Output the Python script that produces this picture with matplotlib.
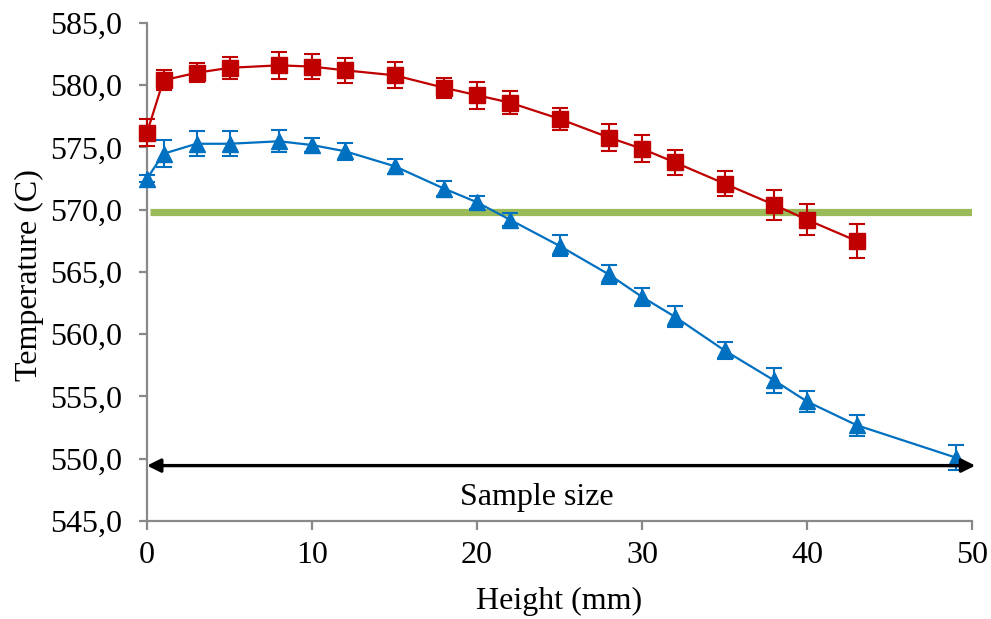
import matplotlib
matplotlib.use("Agg")
import matplotlib.pyplot as plt
from matplotlib.ticker import FuncFormatter

# data
red_x = [0, 1, 3, 5, 8, 10, 12, 15, 18, 20, 22, 25, 28, 30, 32, 35, 38, 40, 43]
red_y = [576.2, 580.4, 581.0, 581.4, 581.6, 581.5, 581.2, 580.8, 579.8, 579.2,
         578.6, 577.3, 575.8, 574.9, 573.8, 572.1, 570.4, 569.2, 567.5]
red_err = [1.1, 0.8, 0.75, 0.9, 1.1, 1.0, 1.0, 1.05, 0.8, 1.1,
           0.9, 0.9, 1.05, 1.1, 1.0, 1.0, 1.2, 1.25, 1.35]

blue_x = [0, 1, 3, 5, 8, 10, 12, 15, 18, 20, 22, 25, 28, 30, 32, 35, 38, 40, 43, 49]
blue_y = [572.5, 574.5, 575.3, 575.3, 575.5, 575.2, 574.7, 573.5, 571.7, 570.6,
          569.2, 567.1, 564.8, 563.0, 561.4, 558.7, 556.3, 554.6, 552.7, 550.1]
blue_err = [0.3, 1.1, 1.0, 1.0, 0.9, 0.6, 0.7, 0.6, 0.6, 0.5,
            0.5, 0.85, 0.8, 0.7, 0.85, 0.7, 1.0, 0.85, 0.85, 1.0]

ref_temp = 569.85          # green horizontal line
sample_span = (0, 50.2)    # arrow extent (mm)
sample_y = 549.45
sample_label = "Sample size"

x_ticks = [0, 10, 20, 30, 40, 50]
y_ticks = [545, 550, 555, 560, 565, 570, 575, 580, 585]

RED = "#C00000"
BLUE = "#0070C0"
GREEN = "#9BBB59"
AXIS_GREY = "#898989"
FS = 23

plt.rcParams["font.family"] = ["Liberation Serif", "DejaVu Serif"]

fig = plt.figure(figsize=(9.91, 6.19), dpi=100)
ax = fig.add_axes([147 / 991, 1 - 521 / 619, 825 / 991, 498 / 619])

ax.hlines(ref_temp, 0.2, 50, color=GREEN, lw=5.2, zorder=2)

ax.errorbar(red_x, red_y, yerr=red_err, fmt="s-", color=RED, ms=11.5, lw=1.6,
            elinewidth=1.5, capsize=5.5, capthick=1.5, clip_on=False, zorder=3)
ax.errorbar(blue_x, blue_y, yerr=blue_err, fmt="^-", color=BLUE, ms=12, lw=1.6,
            elinewidth=1.5, capsize=5.5, capthick=1.5, clip_on=False, zorder=3)

ax.annotate("", xy=(sample_span[1], sample_y), xytext=(sample_span[0], sample_y),
            arrowprops=dict(arrowstyle="<|-|>", color="black", lw=2.4,
                            mutation_scale=20, shrinkA=0, shrinkB=0),
            annotation_clip=False, zorder=4)
ax.text(23.6, 546.3, sample_label, ha="center", va="baseline", fontsize=FS)

ax.set_xlim(0, 50)
ax.set_ylim(545, 585)
ax.set_xticks(x_ticks)
ax.set_yticks(y_ticks)
ax.yaxis.set_major_formatter(FuncFormatter(lambda v, p: f"{v:.1f}".replace(".", ",")))

for side in ("top", "right"):
    ax.spines[side].set_visible(False)
for side in ("left", "bottom"):
    ax.spines[side].set_color(AXIS_GREY)
    ax.spines[side].set_linewidth(1.6)

ax.tick_params(axis="y", direction="out", length=6, width=1.6, color=AXIS_GREY,
               labelsize=FS, pad=12)
ax.tick_params(axis="x", direction="out", length=6.5, width=1.6, color=AXIS_GREY,
               labelsize=FS, pad=8)

ax.set_ylabel("Temperature (C)", fontsize=FS)
ax.yaxis.label.set_va("center")
ax.yaxis.set_label_coords(-0.143, 0.494)
ax.set_xlabel("Height (mm)", fontsize=FS)
ax.xaxis.label.set_va("top")
ax.xaxis.set_label_coords(0.5, -0.132)

fig.savefig("out.png", dpi=100)
